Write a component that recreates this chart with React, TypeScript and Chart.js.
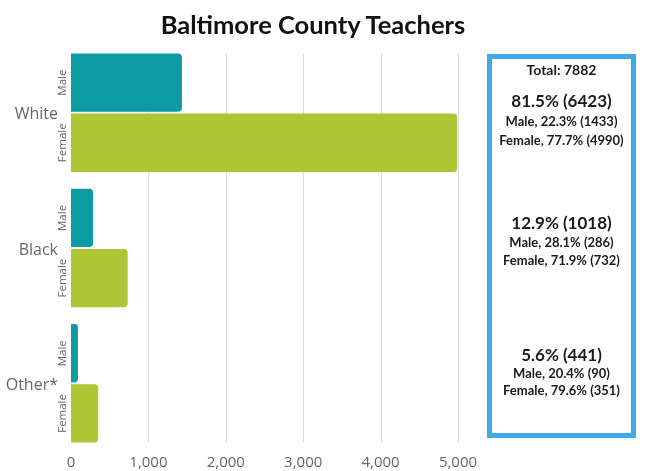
import React, { useEffect, useRef } from "react";
import { Chart, registerables } from "chart.js";

Chart.register(...registerables);

const categories = ["White", "Black", "Other*"];
const seriesNames = ["Male", "Female"];
const maleValues = [1433, 286, 90];
const femaleValues = [4990, 732, 351];
const xTicks = [0, 1000, 2000, 3000, 4000, 5000];
const titleText = "Baltimore County Teachers";
const totalText = "Total: 7882";
const groupHeadlines = ["81.5% (6423)", "12.9% (1018)", "5.6% (441)"];
const groupMaleLines = ["Male, 22.3% (1433)", "Male, 28.1% (286)", "Male, 20.4% (90)"];
const groupFemaleLines = ["Female, 77.7% (4990)", "Female, 71.9% (732)", "Female, 79.6% (351)"];

const MALE_COLOR = "#0d9ba3";
const FEMALE_COLOR = "#aec536";
const BOX_COLOR = "#3eaae8";

const labelPlugin = {
  id: "customLabels",
  beforeDatasetsDraw(chart: any) {
    const ctx = chart.ctx;
    const xs = chart.scales.x;
    const m0 = chart.getDatasetMeta(0).data;
    const m1 = chart.getDatasetMeta(1).data;
    const first = m0[0];
    const last = m1[m1.length - 1];
    const top = first.y - first.height / 2;
    const bottom = last.y + last.height / 2;
    ctx.save();
    ctx.strokeStyle = "#dddddd";
    ctx.lineWidth = 1;
    xTicks.forEach((v) => {
      if (v === 0) return;
      const x = Math.round(xs.getPixelForValue(v)) + 0.5;
      ctx.beginPath();
      ctx.moveTo(x, top);
      ctx.lineTo(x, bottom);
      ctx.stroke();
    });
    ctx.restore();
  },
  afterDraw(chart: any) {
    const ctx = chart.ctx;
    const ys = chart.scales.y;
    ctx.save();
    ctx.fillStyle = "#666666";
    ctx.font = "16px 'Open Sans'";
    ctx.textAlign = "right";
    ctx.textBaseline = "middle";
    categories.forEach((c, i) => {
      ctx.fillText(c, 58, ys.getPixelForValue(i) + 2);
    });
    ctx.font = "11.5px 'Open Sans'";
    ctx.textAlign = "center";
    [0, 1].forEach((d) => {
      const meta = chart.getDatasetMeta(d);
      meta.data.forEach((bar: any) => {
        ctx.save();
        ctx.translate(63, bar.y);
        ctx.rotate(-Math.PI / 2);
        ctx.fillText(seriesNames[d], 0, 0);
        ctx.restore();
      });
    });
    ctx.restore();
  },
};

export default function App() {
  const ref = useRef<HTMLCanvasElement | null>(null);
  useEffect(() => {
    if (!ref.current) return;
    const chart = new Chart(ref.current, {
      type: "bar",
      data: {
        labels: categories,
        datasets: [
          {
            label: seriesNames[0],
            data: maleValues,
            backgroundColor: MALE_COLOR,
            borderRadius: 4,
            barPercentage: 0.97,
            categoryPercentage: 0.889,
          },
          {
            label: seriesNames[1],
            data: femaleValues,
            backgroundColor: FEMALE_COLOR,
            borderRadius: 4,
            barPercentage: 0.97,
            categoryPercentage: 0.889,
          },
        ],
      },
      options: {
        indexAxis: "y",
        animation: false,
        responsive: false,
        layout: { padding: { left: 71, right: 190, top: 45, bottom: 0 } },
        plugins: { legend: { display: false }, tooltip: { enabled: false }, title: { display: false } },
        scales: {
          x: {
            min: 0,
            max: 5000,
            afterBuildTicks: (axis: any) => {
              axis.ticks = xTicks.map((v) => ({ value: v }));
            },
            afterFit: (axis: any) => {
              axis.height = 20;
            },
            grid: { display: false, drawTicks: false },
            border: { display: false },
            ticks: {
              color: "#666666",
              font: { family: "'Open Sans'", size: 15 },
              padding: 3,
            },
          },
          y: {
            display: false,
          },
        },
      },
      plugins: [labelPlugin],
    } as any);
    return () => chart.destroy();
  }, []);

  const lineStyle = (top: number, size: number): React.CSSProperties => ({
    position: "absolute",
    left: 0,
    width: "100%",
    top: top - size * 0.7,
    height: size * 1.4,
    lineHeight: `${size * 1.4}px`,
    fontSize: size,
    fontWeight: 700,
    textAlign: "center",
    color: "#1a1a1a",
    whiteSpace: "nowrap",
  });

  const headY = [101, 223, 355];
  const maleY = [121, 242, 373];
  const femaleY = [140, 260, 390];

  return (
    <div
      style={{
        position: "fixed",
        left: 0,
        top: 0,
        width: 648,
        height: 471,
        background: "#ffffff",
        fontFamily: "Lato, 'Open Sans', sans-serif",
        overflow: "hidden",
      }}
    >
      <canvas ref={ref} width={648} height={471} style={{ position: "absolute", left: 0, top: 0 }} />
      <div
        style={{
          position: "absolute",
          left: 0,
          top: 8,
          width: 626,
          textAlign: "center",
          fontSize: 25.5,
          fontWeight: 700,
          color: "#111111",
          lineHeight: "32px",
        }}
      >
        {titleText}
      </div>
      <div
        style={{
          position: "absolute",
          left: 487,
          top: 54,
          width: 149,
          height: 384,
          boxSizing: "border-box",
          border: `5px solid ${BOX_COLOR}`,
        }}
      >
        <div style={{ position: "absolute", left: -5, top: -59, width: 149, height: 385 }}>
          <div style={lineStyle(70, 14)}>{totalText}</div>
          {groupHeadlines.map((h, i) => (
            <React.Fragment key={h}>
              <div style={lineStyle(headY[i], 17)}>{h}</div>
              <div style={lineStyle(maleY[i], 13)}>{groupMaleLines[i]}</div>
              <div style={lineStyle(femaleY[i], 13)}>{groupFemaleLines[i]}</div>
            </React.Fragment>
          ))}
        </div>
      </div>
    </div>
  );
}
